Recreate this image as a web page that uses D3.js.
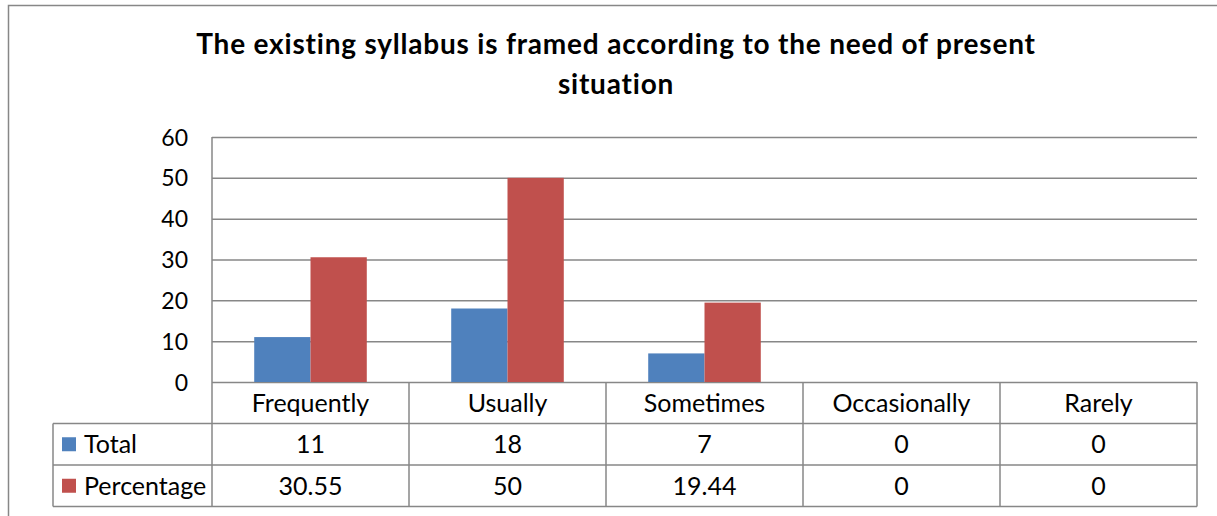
<!DOCTYPE html>
<html>
<head>
<meta charset="utf-8">
<script src="https://cdn.jsdelivr.net/npm/d3@7"></script>
<style>
  html, body { margin: 0; padding: 0; background: #fff; }
  svg { display: block; }
  text { font-family: Lato, "Open Sans", sans-serif; fill: #000; }
</style>
</head>
<body>
<svg id="chart" width="1217" height="516"></svg>
<script>
const titleLines = ["The existing syllabus is framed according to the need of present", "situation"];
const categories = ["Frequently", "Usually", "Sometimes", "Occasionally", "Rarely"];
const seriesNames = ["Total", "Percentage"];
const totalValues = [11, 18, 7, 0, 0];
const percentageValues = [30.55, 50, 19.44, 0, 0];
const yTicks = [0, 10, 20, 30, 40, 50, 60];
const colors = ["#4F81BD", "#C0504D"];

const series = [
  { name: seriesNames[0], values: totalValues, color: colors[0] },
  { name: seriesNames[1], values: percentageValues, color: colors[1] }
];

const svg = d3.select("#chart");
const grid = "#878787";

const plot = { left: 212, right: 1197, top: 137, bottom: 382 };
const tableLeft = 53;
const rowH = 41.5;
const fs = "25px";

// outer frame
svg.append("rect").attr("x", 8.5).attr("y", 5.5).attr("width", 1240).attr("height", 540)
  .attr("fill", "none").attr("stroke", grid).attr("stroke-width", 1.5);

// title
svg.append("text").attr("x", 616).attr("y", 54).attr("text-anchor", "middle")
  .style("font-weight", "bold").style("font-size", "28px").style("letter-spacing", "0.8px").text(titleLines[0]);
svg.append("text").attr("x", 616).attr("y", 94).attr("text-anchor", "middle")
  .style("font-weight", "bold").style("font-size", "28px").style("letter-spacing", "0.8px").text(titleLines[1]);

const x = d3.scaleBand().domain(categories).range([plot.left, plot.right]).paddingInner(0).paddingOuter(0);
const xs = d3.scaleBand().domain(seriesNames).range([0, x.bandwidth()]).paddingInner(0).paddingOuter(0.75);
const y = d3.scaleLinear().domain([0, 60]).range([plot.bottom, plot.top]);

// gridlines
const yAxis = d3.axisLeft(y).tickValues(yTicks).tickSize(-(plot.right - plot.left)).tickPadding(24).tickFormat(d3.format("d"));
const ga = svg.append("g").attr("transform", `translate(${plot.left},0)`).call(yAxis);
ga.select(".domain").remove();
ga.selectAll(".tick line").attr("stroke", grid).attr("stroke-width", 1.5);
ga.selectAll(".tick text").style("font-size", "23px").style("font-family", "Lato, sans-serif").attr("fill", "#000").attr("dy", "0.35em");

// bars
const groups = svg.append("g").selectAll("g").data(series).join("g").attr("fill", d => d.color);
groups.selectAll("rect").data(s => s.values.map((v, i) => ({ s: s.name, c: categories[i], v })))
  .join("rect")
  .attr("x", d => x(d.c) + xs(d.s))
  .attr("y", d => y(d.v))
  .attr("width", xs.bandwidth())
  .attr("height", d => y(0) - y(d.v));

// data table
const tbl = svg.append("g").attr("stroke", grid).attr("stroke-width", 1.5).attr("fill", "none");
const rowY = [plot.bottom, plot.bottom + rowH, plot.bottom + 2 * rowH, plot.bottom + 3 * rowH];
tbl.append("line").attr("x1", tableLeft).attr("x2", plot.right).attr("y1", rowY[1]).attr("y2", rowY[1]);
tbl.append("line").attr("x1", tableLeft).attr("x2", plot.right).attr("y1", rowY[2]).attr("y2", rowY[2]);
tbl.append("line").attr("x1", tableLeft).attr("x2", plot.right).attr("y1", rowY[3]).attr("y2", rowY[3]);
tbl.append("line").attr("x1", tableLeft).attr("x2", tableLeft).attr("y1", rowY[1]).attr("y2", rowY[3]);
tbl.append("line").attr("x1", plot.left).attr("x2", plot.left).attr("y1", plot.top).attr("y2", rowY[3]);
tbl.selectAll("line.div").data(categories).join("line").attr("class", "div")
  .attr("x1", d => x(d) + x.bandwidth()).attr("x2", d => x(d) + x.bandwidth())
  .attr("y1", plot.bottom).attr("y2", rowY[3]);

// category labels
svg.append("g").selectAll("text").data(categories).join("text")
  .attr("x", d => x(d) + x.bandwidth() / 2).attr("y", rowY[0] + rowH / 2).attr("dy", "0.35em")
  .attr("text-anchor", "middle").style("font-size", fs).text(d => d);

// series rows
series.forEach((s, r) => {
  const yc = rowY[r + 1] + rowH / 2;
  svg.append("rect").attr("x", 62).attr("y", yc - 7).attr("width", 14).attr("height", 14).attr("fill", s.color);
  svg.append("text").attr("x", 84).attr("y", yc).attr("dy", "0.35em").style("font-size", fs).text(s.name);
  svg.append("g").selectAll("text").data(s.values).join("text")
    .attr("x", (d, i) => x(categories[i]) + x.bandwidth() / 2).attr("y", yc).attr("dy", "0.35em")
    .attr("text-anchor", "middle").style("font-size", fs).text(d => String(d));
});
</script>
</body>
</html>
